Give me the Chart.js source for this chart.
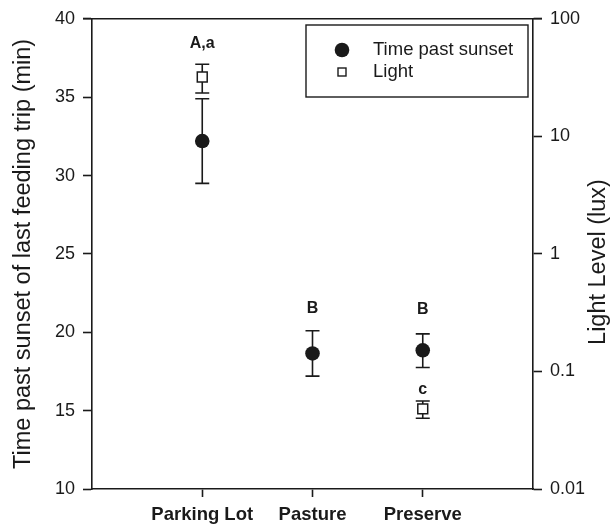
<!DOCTYPE html>
<html>
<head>
<meta charset="utf-8">
<script src="https://cdn.jsdelivr.net/npm/chart.js@4/dist/chart.umd.min.js"></script>
<style>
  html, body { margin: 0; padding: 0; background: #fff; }
  #wrap { width: 614px; height: 524px; }
</style>
</head>
<body>
<div id="wrap"><canvas id="chart" width="614" height="524"></canvas></div>
<script>
const categories = ["Parking Lot", "Pasture", "Preserve"];

// time past sunset (min), left axis
const timeMean = [32.2, 18.65, 18.85];
const timeLow = [29.5, 17.2, 17.75];
const timeHigh = [34.9, 20.1, 19.9];

// light level (lux), right log axis
const lightMean = [32, null, 0.048];
const lightLow = [23.4, null, 0.04];
const lightHigh = [41, null, 0.056];

// significance letters
const timeLetters = ["", "B", "B"];
const lightLetters = ["A,a", "", "c"];

const leftTicks = [10, 15, 20, 25, 30, 35, 40];
const rightTicks = [0.01, 0.1, 1, 10, 100];

const FONT = "'Liberation Sans', Arial, sans-serif";
const INK = "#1a1a1a";
const rightTitle = "Light Level (lux)";

// px between top cap and letter baseline
const letterGap = { time: [0, 18, 20], light: [16, 0, 7] };

const toPoints = (vals) => vals.map((v, i) => ({ x: i + 1, y: v }));

const errorBars = {
  id: "errorBars",
  beforeDatasetsDraw(chart) {
    const ctx = chart.ctx;
    ctx.save();
    ctx.strokeStyle = INK;
    ctx.lineWidth = 1.6;
    chart.data.datasets.forEach((ds, i) => {
      const meta = chart.getDatasetMeta(i);
      const scale = chart.scales[ds.yAxisID];
      ds.low.forEach((lo, j) => {
        const hi = ds.high[j];
        if (lo == null || hi == null) return;
        const x = meta.data[j].x;
        const yl = scale.getPixelForValue(lo);
        const yh = scale.getPixelForValue(hi);
        ctx.beginPath();
        ctx.moveTo(x, yl); ctx.lineTo(x, yh);
        ctx.moveTo(x - 7, yl); ctx.lineTo(x + 7, yl);
        ctx.moveTo(x - 7, yh); ctx.lineTo(x + 7, yh);
        ctx.stroke();
      });
    });
    ctx.restore();
  },
  afterDatasetsDraw(chart) {
    const ctx = chart.ctx;
    const a = chart.chartArea;
    ctx.save();
    // top frame line
    ctx.strokeStyle = INK;
    ctx.lineWidth = 1.6;
    ctx.beginPath();
    ctx.moveTo(a.left - 9, a.top);
    ctx.lineTo(a.right + 9, a.top);
    ctx.stroke();

    // letters
    ctx.fillStyle = INK;
    ctx.font = "bold 16px " + FONT;
    ctx.textAlign = "center";
    ctx.textBaseline = "alphabetic";
    const put = (letters, ds, gaps) => {
      const scale = chart.scales[ds.yAxisID];
      letters.forEach((t, j) => {
        if (!t) return;
        const x = chart.scales.x.getPixelForValue(j + 1);
        const y = scale.getPixelForValue(ds.high[j]) - gaps[j];
        ctx.fillText(t, x, y);
      });
    };
    put(timeLetters, chart.data.datasets[0], letterGap.time);
    put(lightLetters, chart.data.datasets[1], letterGap.light);

    // right axis title, reading bottom to top
    ctx.save();
    ctx.translate(599, 262);
    ctx.rotate(-Math.PI / 2);
    ctx.font = "23.5px " + FONT;
    ctx.textBaseline = "middle";
    ctx.fillText(rightTitle, 0, 0);
    ctx.restore();

    // legend box
    const bx = 306, by = 25, bw = 222, bh = 72;
    ctx.lineWidth = 1.4;
    ctx.strokeRect(bx, by, bw, bh);
    ctx.beginPath();
    ctx.arc(bx + 36, by + 25, 7.3, 0, Math.PI * 2);
    ctx.fill();
    ctx.fillStyle = "#fff";
    ctx.fillRect(bx + 32, by + 43, 8, 8);
    ctx.strokeRect(bx + 32, by + 43, 8, 8);
    ctx.fillStyle = INK;
    ctx.font = "18.5px " + FONT;
    ctx.textAlign = "left";
    ctx.textBaseline = "middle";
    ctx.fillText(chart.data.datasets[0].label, bx + 67, by + 25);
    ctx.fillText(chart.data.datasets[1].label, bx + 67, by + 47);
    ctx.restore();
  }
};

new Chart(document.getElementById("chart"), {
  type: "scatter",
  data: {
    datasets: [
      {
        label: "Time past sunset",
        data: toPoints(timeMean),
        low: timeLow,
        high: timeHigh,
        yAxisID: "y",
        pointStyle: "circle",
        pointRadius: 7.3,
        pointBackgroundColor: INK,
        pointBorderColor: INK,
        pointBorderWidth: 0
      },
      {
        label: "Light",
        data: toPoints(lightMean),
        low: lightLow,
        high: lightHigh,
        yAxisID: "yR",
        pointStyle: "rect",
        pointRadius: 7,
        pointBackgroundColor: "#fff",
        pointBorderColor: INK,
        pointBorderWidth: 1.5
      }
    ]
  },
  options: {
    responsive: false,
    animation: false,
    events: [],
    layout: { padding: { top: 18, left: 0, right: 0, bottom: 0 } },
    plugins: {
      legend: { display: false },
      tooltip: { enabled: false }
    },
    scales: {
      x: {
        type: "linear",
        min: 0,
        max: 4,
        afterBuildTicks: (s) => { s.ticks = categories.map((c, i) => ({ value: i + 1 })); },
        afterFit: (s) => { s.height = 35; },
        ticks: {
          callback: (v) => categories[v - 1] || "",
          color: INK,
          padding: 7,
          maxRotation: 0,
          font: { family: FONT, size: 18.5, weight: "bold" }
        },
        grid: { drawOnChartArea: false, tickLength: 8, tickWidth: 1.6, tickColor: INK },
        border: { color: INK, width: 1.6 }
      },
      y: {
        position: "left",
        min: 10,
        max: 40,
        afterBuildTicks: (s) => { s.ticks = leftTicks.map((v) => ({ value: v })); },
        afterFit: (s) => { s.width = 92; },
        ticks: { color: INK, padding: 8, font: { family: FONT, size: 18 } },
        grid: { drawOnChartArea: false, tickLength: 9, tickWidth: 1.6, tickColor: INK },
        border: { color: INK, width: 1.6 },
        title: {
          display: true,
          text: "Time past sunset of last feeding trip (min)",
          color: INK,
          padding: 9,
          font: { family: FONT, size: 23.5 }
        }
      },
      yR: {
        type: "logarithmic",
        position: "right",
        min: 0.01,
        max: 100,
        afterBuildTicks: (s) => { s.ticks = rightTicks.map((v) => ({ value: v })); },
        afterFit: (s) => { s.width = 81; },
        ticks: {
          callback: (v) => String(v),
          color: INK,
          padding: 8,
          font: { family: FONT, size: 18 }
        },
        grid: { drawOnChartArea: false, tickLength: 9, tickWidth: 1.6, tickColor: INK },
        border: { color: INK, width: 1.6 }
      }
    }
  },
  plugins: [errorBars]
});
</script>
</body>
</html>
